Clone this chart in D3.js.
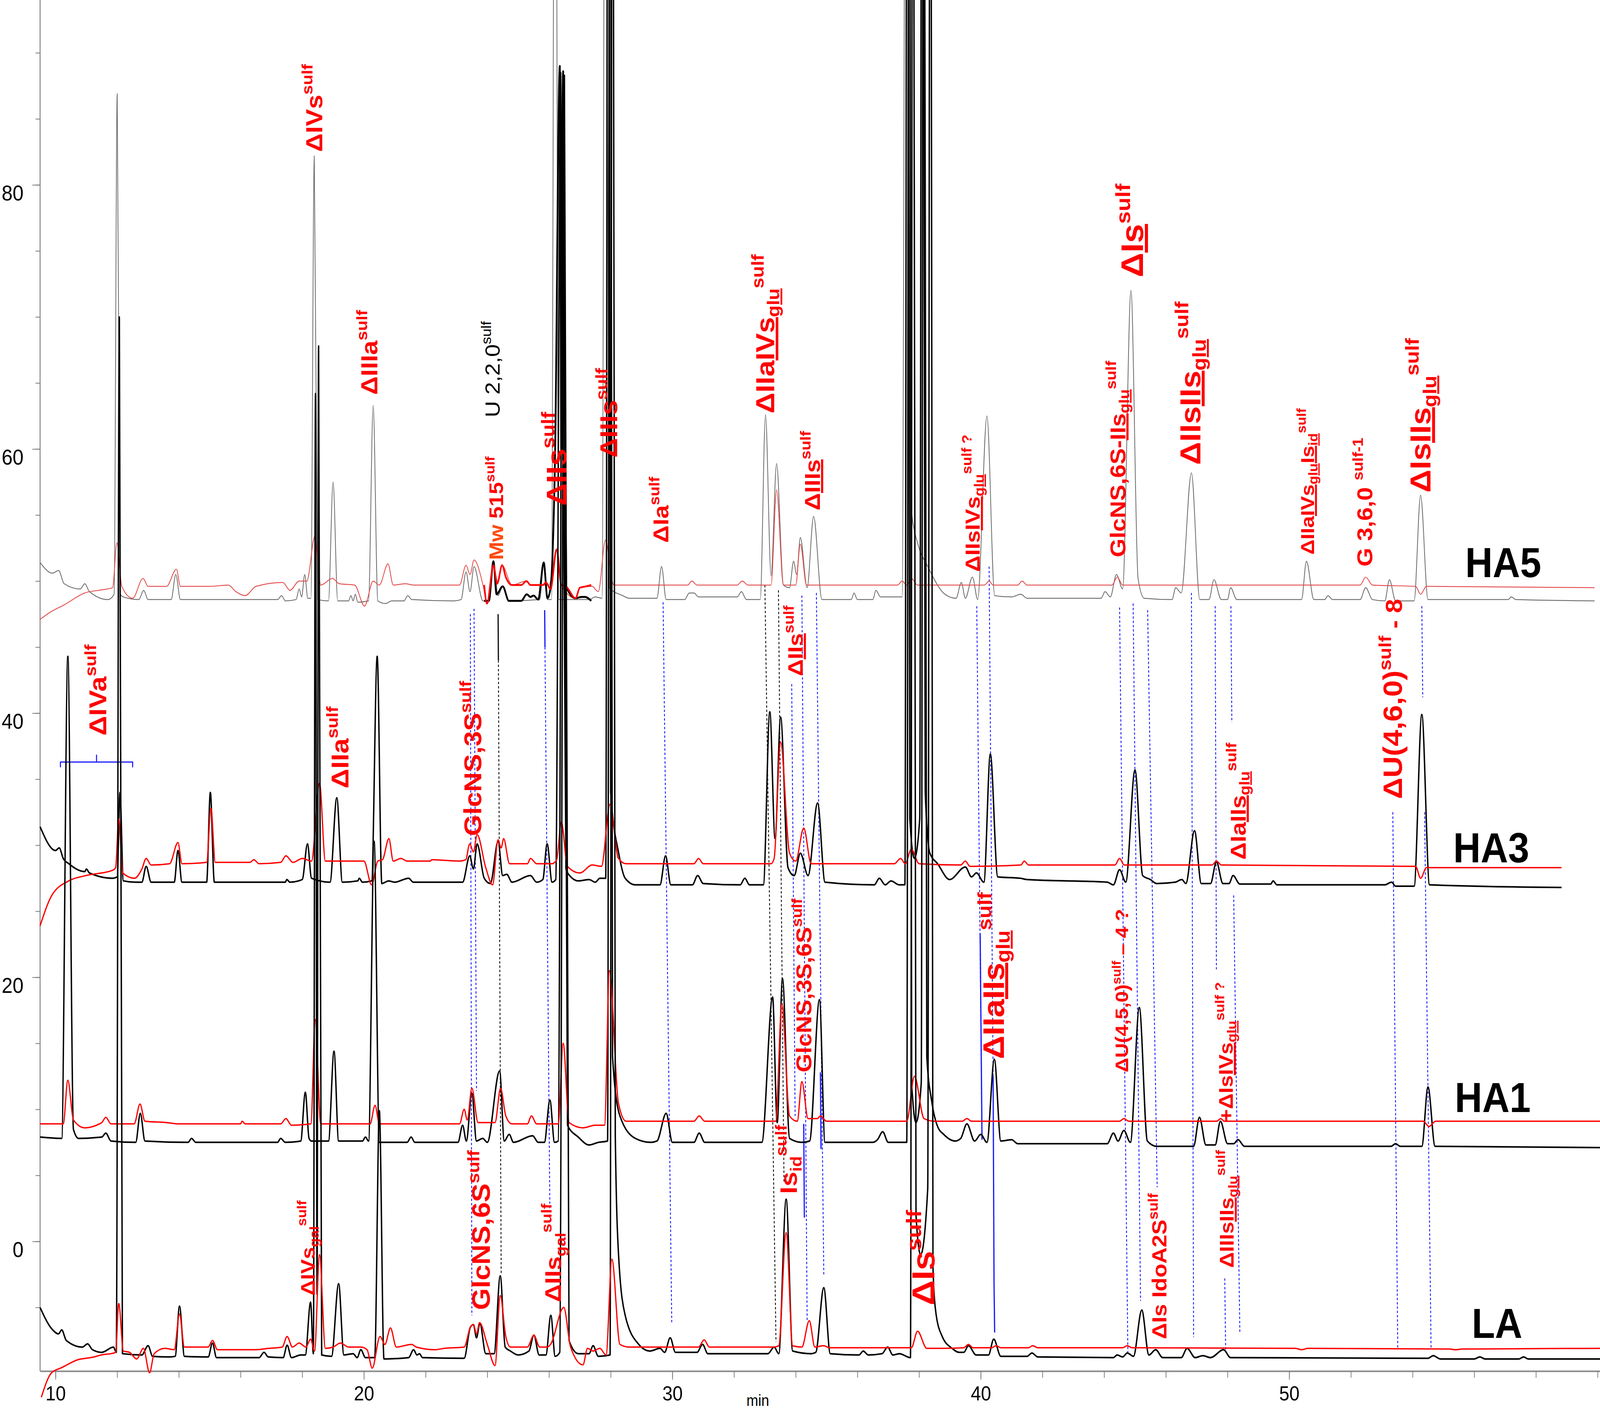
<!DOCTYPE html>
<html lang="en">
<head>
<meta charset="UTF-8">
<title>HPLC profiles LA / HA1 / HA3 / HA5</title>
<script src="https://d3js.org/d3.v7.min.js"></script>
<style>
  html, body { margin: 0; padding: 0; background: #fff; overflow: hidden; }
  svg { display: block; font-family: "Liberation Sans", Arial, sans-serif; }
</style>
</head>
<body>
<div id="chart"></div>
<script>
// ---------- data: [time (min), signal] ----------
const timeLabels = [10, 20, 30, 40, 50];
const signalLabels = [0, 20, 40, 60, 80];
const sampleNames = ["HA5", "HA3", "HA1", "LA"];

const ha5Grey = [[9.5,51.4],[9.9,50.6],[10.1,50.8],[10.28,49.8],[10.8,49.4],[10.95,49.8],[11.1,49.2],[11.7,48.6],[11.9,49.0],[12.0,86.9],[12.1,49.0],[12.2,48.8],[12.7,48.6],[12.86,49.3],[13.0,48.6],[13.75,48.6],[13.9,50.5],[14.05,48.6],[17.2,48.6],[17.33,48.9],[17.45,48.5],[17.8,48.6],[17.9,49.4],[17.98,48.8],[18.08,50.5],[18.18,48.7],[18.28,48.7],[18.39,82.2],[18.5,48.6],[18.85,48.5],[19.0,57.5],[19.15,48.5],[19.5,48.5],[19.58,48.9],[19.65,48.5],[19.72,49.0],[19.8,48.4],[20.15,48.5],[20.3,63.3],[20.45,48.5],[20.7,48.3],[20.9,48.5],[21.3,48.5],[21.42,48.9],[21.55,48.6],[22.9,48.5],[23.15,48.6],[23.31,50.7],[23.44,49.2],[23.57,51.1],[23.86,48.5],[24.05,48.5],[24.2,51.4],[24.35,48.9],[24.5,49.6],[24.7,48.5],[25.7,48.6],[25.83,51.4],[25.95,48.6],[26.08,48.6],[26.2,130],[26.32,48.6],[27.3,48.6],[27.5,48.8],[27.72,48.7],[27.83,130],[27.95,49.5],[28.39,48.9],[28.6,48.7],[29.5,48.7],[29.65,51.1],[29.8,48.6],[30.4,48.6],[30.55,49.1],[30.7,49.1],[30.85,48.8],[32.1,48.8],[32.24,49.2],[32.4,48.6],[32.85,48.6],[33.02,62.6],[33.2,50.4],[33.38,58.9],[33.6,49.7],[33.8,49.5],[33.93,51.5],[34.03,50.5],[34.15,53.3],[34.37,49.5],[34.58,54.9],[34.85,48.6],[35.8,48.6],[35.89,49.1],[36.0,48.6],[36.5,48.6],[36.6,49.3],[36.75,48.8],[37.45,48.8],[37.58,130],[37.72,56],[38.0,52.5],[38.24,51.3],[38.84,49.0],[39.2,48.7],[39.37,49.9],[39.5,48.7],[39.73,50.3],[39.9,48.6],[40.2,62.5],[40.45,48.9],[41.0,48.8],[41.3,49.0],[41.5,48.7],[43.9,48.7],[44.03,49.2],[44.2,48.8],[44.4,50.5],[44.6,49.4],[44.87,72.0],[45.1,50.2],[45.3,48.7],[46.2,48.6],[46.32,49.5],[46.5,49.1],[46.83,58.2],[47.1,48.6],[47.4,48.6],[47.56,50.1],[47.8,48.6],[48.0,48.6],[48.1,49.5],[48.3,48.6],[50.4,48.6],[50.56,51.5],[50.8,48.6],[51.15,48.6],[51.26,48.9],[51.4,48.6],[52.3,48.6],[52.48,49.5],[52.7,48.6],[53.1,48.5],[53.25,50.1],[53.45,48.5],[54.05,48.5],[54.26,56.5],[54.5,48.6],[57.1,48.6],[57.2,48.8],[57.35,48.6],[59.9,48.5]];

const ha5Red = [[9.5,47.1],[9.8,47.6],[10.28,48.2],[10.95,49.1],[11.51,49.34],[11.85,49.5],[11.99,52.9],[12.15,49.6],[12.5,48.7],[12.84,50.2],[13.0,49.6],[13.6,49.6],[13.92,50.9],[14.05,49.6],[15.0,49.6],[15.6,49.7],[15.85,49.2],[16.15,48.9],[16.5,49.6],[17.37,49.9],[17.6,49.3],[17.9,50.0],[18.15,50.0],[18.41,53.4],[18.6,49.7],[18.98,50.2],[19.2,49.8],[19.7,49.7],[20.02,48.1],[20.3,50.0],[20.5,49.7],[20.78,51.3],[20.95,49.7],[21.35,49.8],[21.6,49.7],[22.9,49.7],[23.1,49.7],[23.31,51.2],[23.44,50.5],[23.57,51.6],[23.86,49.7],[23.99,48.3],[24.2,51.2],[24.33,50.0],[24.48,51.2],[24.8,49.7],[25.27,50.0],[25.4,49.7],[26.0,49.7],[26.25,52.4],[26.4,49.7],[26.86,48.7],[27.0,49.5],[27.4,49.6],[27.6,49.2],[27.83,53.1],[28.1,49.7],[30.5,49.7],[30.63,50.0],[30.8,49.7],[32.1,49.7],[32.27,50.0],[32.45,49.7],[33.2,49.7],[33.38,56.9],[33.6,49.7],[34.0,49.7],[34.15,52.8],[34.35,49.7],[37.3,49.7],[37.45,50.0],[37.6,49.7],[37.75,50.2],[37.95,49.7],[40.12,49.7],[40.27,50.0],[40.4,49.7],[41.2,49.7],[41.34,50.0],[41.5,49.7],[44.25,49.7],[44.43,50.3],[44.6,49.7],[52.3,49.7],[52.48,50.3],[52.7,49.7],[54.1,49.6],[54.26,49.0],[54.45,49.6],[59.9,49.5]];

// HA5 segment re-plotted with a heavier pen (24–27.4 min)
const ha5PatchBlack = [[23.9,48.5],[24.05,48.5],[24.2,51.5],[24.3,49.0],[24.5,49.6],[24.7,48.5],[25.1,48.5],[25.28,49.0],[25.4,48.8],[25.5,48.9],[25.65,48.6],[25.83,51.4],[25.95,48.7],[26.05,49.5],[26.2,60],[26.35,89.0],[26.4,60],[26.46,88.6],[26.56,49.6],[26.86,48.7],[27.05,48.8],[27.17,48.8],[27.37,48.5]];
const ha5PatchRed = [[23.9,49.7],[23.99,48.3],[24.2,51.2],[24.32,49.8],[24.48,51.2],[24.6,50.3],[24.8,49.7],[25.1,49.7],[25.27,50.0],[25.4,49.7],[25.8,49.7],[25.9,49.9],[26.05,49.4],[26.25,52.4],[26.4,49.7],[26.55,49.6],[26.86,48.7],[27.0,49.5],[27.2,49.6],[27.37,49.7]];

const ha3Black = [[9.5,31.4],[10.0,29.6],[10.12,29.8],[10.25,29.0],[10.43,28.6],[10.95,28.0],[11.0,28.2],[11.1,27.9],[11.85,27.5],[12.0,27.6],[12.09,34.0],[12.2,27.3],[12.6,27.2],[12.8,27.2],[12.94,28.4],[13.1,27.2],[13.85,27.2],[13.97,29.6],[14.1,27.2],[14.9,27.2],[15.02,34.0],[15.15,27.2],[17.45,27.2],[17.5,27.4],[17.6,27.2],[18.0,27.4],[18.17,30.1],[18.3,27.5],[18.9,27.2],[19.12,33.6],[19.3,27.2],[19.8,27.3],[19.85,27.5],[19.95,27.2],[20.25,27.3],[20.43,44.3],[20.58,27.1],[20.8,27.3],[21.0,27.2],[21.45,27.5],[21.6,27.2],[23.2,27.2],[23.43,29.2],[23.55,28.2],[23.67,30.1],[23.9,27.5],[24.1,27.1],[24.35,30.3],[24.5,27.7],[24.63,27.8],[24.8,27.2],[25.4,27.7],[25.6,27.2],[25.8,27.4],[25.94,30.1],[26.1,27.2],[26.22,27.4],[26.38,88.5],[26.55,28.2],[26.67,27.7],[26.95,27.3],[27.3,27.4],[27.5,27.2],[27.65,27.5],[27.84,27.5],[27.92,140],[28.0,34],[28.26,29.4],[28.47,27.5],[28.8,27.0],[29.6,27.0],[29.78,29.2],[29.95,27.0],[30.65,27.0],[30.82,27.7],[31.0,27.1],[32.2,27.0],[32.35,27.5],[32.5,27.0],[32.95,27.0],[33.16,40.1],[33.33,30.5],[33.51,39.7],[33.75,28.3],[33.95,27.7],[34.15,29.4],[34.4,27.7],[34.71,33.2],[34.95,27.2],[36.55,27.0],[36.71,27.5],[36.9,27.0],[37.09,27.3],[37.35,27.0],[37.54,27.0],[37.62,140],[37.7,32],[37.85,29],[38.02,32],[38.1,140],[38.2,34],[38.35,29.4],[38.6,28.6],[38.99,27.4],[39.5,28.35],[39.7,27.6],[39.86,27.9],[40.1,27.2],[40.31,36.9],[40.55,27.6],[41.28,27.5],[41.5,27.4],[44.1,27.2],[44.3,27.0],[44.5,28.15],[44.7,27.2],[45.0,35.7],[45.25,27.7],[45.5,27.4],[45.7,27.1],[46.3,27.2],[46.52,27.4],[46.65,27.1],[46.93,31.1],[47.15,27.1],[47.45,27.1],[47.64,28.75],[47.85,27.1],[48.05,27.1],[48.18,27.7],[48.4,27.06],[49.4,27.06],[49.48,27.3],[49.6,27.0],[53.1,27.0],[53.32,27.2],[53.45,26.9],[54.05,26.9],[54.3,39.9],[54.55,27.0],[58.83,26.8]];

const ha3Red = [[9.5,23.9],[9.88,26.2],[10.43,27.3],[10.98,27.7],[11.85,28.1],[11.95,28.3],[12.05,32.0],[12.18,27.9],[12.56,27.5],[12.8,28.2],[12.94,29.0],[13.1,28.5],[13.7,28.6],[13.97,30.2],[14.1,28.6],[14.9,28.7],[15.04,32.8],[15.18,28.7],[16.3,28.7],[16.43,28.9],[16.6,28.6],[17.3,28.7],[17.47,29.2],[17.7,28.7],[18.0,29.0],[18.3,28.8],[18.56,34.7],[18.75,28.8],[20.0,28.8],[20.25,27.0],[20.45,28.8],[20.6,28.9],[20.81,30.5],[20.95,28.8],[21.2,29.0],[21.4,28.8],[22.15,28.8],[22.2,28.9],[23.1,28.8],[23.3,28.9],[23.43,30.1],[23.55,29.5],[23.67,30.8],[23.95,28.3],[24.17,27.0],[24.35,30.4],[24.45,29.8],[24.53,30.5],[24.72,28.6],[25.3,28.6],[25.4,29.0],[25.6,28.6],[26.1,28.6],[26.25,28.9],[26.4,31.76],[26.6,28.4],[27.0,27.9],[27.4,28.5],[27.7,28.4],[27.98,33.1],[28.25,29.0],[28.5,28.6],[30.7,28.6],[30.85,29.0],[31.0,28.6],[33.2,28.6],[33.3,29.0],[33.51,37.8],[33.8,29.4],[34.0,28.8],[34.26,31.3],[34.5,28.6],[37.2,28.6],[37.4,29.0],[37.55,28.6],[37.75,29.7],[38.0,28.6],[39.35,28.5],[39.5,28.8],[39.65,28.4],[41.3,28.5],[41.41,28.8],[41.55,28.5],[44.35,28.5],[44.5,29.0],[44.65,28.5],[47.5,28.5],[47.64,28.8],[47.8,28.5],[54.1,28.4],[54.26,27.5],[54.45,28.3],[58.83,28.3]];

const ha1Black = [[9.5,7.9],[10.2,7.8],[10.4,44.3],[10.58,8.5],[10.75,7.8],[11.5,7.9],[11.63,8.2],[11.8,7.6],[12.6,7.5],[12.75,9.7],[12.9,7.6],[14.3,7.5],[14.41,7.8],[14.55,7.5],[17.2,7.5],[17.3,7.8],[17.45,7.5],[17.95,7.6],[18.1,11.3],[18.22,7.8],[18.3,7.6],[18.85,7.6],[19.03,14.4],[19.18,7.6],[19.95,7.6],[20.05,7.9],[20.15,7.6],[20.33,30.3],[20.5,7.5],[21.4,7.5],[21.53,7.9],[21.65,7.5],[23.05,7.5],[23.2,8.8],[23.32,7.6],[23.5,11.2],[23.65,7.6],[23.85,7.8],[24.0,7.5],[24.4,12.9],[24.55,7.6],[24.71,8.1],[24.85,7.5],[25.47,8.0],[25.65,7.5],[25.85,7.5],[26.03,10.7],[26.18,7.5],[26.3,7.6],[26.45,88.4],[26.6,8.8],[26.95,7.9],[27.3,7.3],[27.6,7.5],[27.9,7.6],[27.98,140],[28.06,14],[28.3,9.5],[28.8,7.8],[29.3,7.5],[29.5,7.6],[29.8,9.7],[30.0,7.5],[30.7,7.5],[30.87,8.2],[31.05,7.5],[32.9,7.5],[33.25,18.5],[33.4,9.0],[33.57,19.9],[33.8,7.8],[34.2,7.5],[34.45,7.6],[34.77,18.3],[34.95,7.5],[36.5,7.5],[36.65,7.7],[36.82,8.3],[37.0,7.5],[37.6,7.5],[37.68,140],[37.76,12],[37.9,9],[38.07,12],[38.15,140],[38.25,14],[38.41,10.6],[38.6,8.7],[38.8,8.1],[39.17,7.6],[39.35,7.8],[39.55,8.9],[39.8,7.6],[40.0,8.1],[40.2,7.5],[40.44,13.8],[40.65,7.6],[41.0,7.7],[41.2,7.4],[44.1,7.4],[44.3,8.2],[44.45,7.6],[44.64,8.4],[44.85,7.5],[45.14,17.7],[45.4,7.6],[45.7,7.2],[46.9,7.2],[47.09,9.4],[47.3,7.3],[47.6,7.3],[47.77,9.1],[48.0,7.4],[48.2,7.4],[48.34,7.7],[48.55,7.2],[53.3,7.2],[53.45,7.4],[53.6,7.2],[54.3,7.2],[54.5,11.7],[54.73,7.2],[60.1,7.1]];

const ha1Red = [[9.5,8.9],[10.25,8.9],[10.4,12.2],[10.58,9.2],[10.95,8.6],[11.5,9.0],[11.63,9.4],[11.8,8.9],[12.55,8.9],[12.74,10.4],[12.9,9.1],[13.6,9.0],[14.0,8.9],[16.0,8.9],[16.05,9.1],[16.15,8.9],[17.3,8.9],[17.47,9.3],[17.65,8.8],[18.28,8.9],[18.42,16.8],[18.6,8.9],[20.2,8.9],[20.36,10.3],[20.5,8.9],[23.1,8.9],[23.25,10.0],[23.35,9.2],[23.5,11.6],[23.7,9.0],[24.25,9.0],[24.43,11.6],[24.6,9.5],[24.8,8.9],[25.3,8.9],[25.43,9.5],[25.6,8.9],[26.3,8.9],[26.46,15.0],[26.65,9.0],[27.1,8.6],[27.5,8.8],[27.8,8.8],[27.96,20.5],[28.25,10.5],[28.5,9.1],[30.7,9.1],[30.87,9.5],[31.05,9.1],[33.35,9.1],[33.55,18.0],[33.8,9.5],[34.05,9.1],[34.2,12.1],[34.4,9.3],[34.7,9.3],[34.8,9.5],[35.0,9.1],[37.6,9.1],[37.85,12.5],[38.16,9.3],[38.5,9.1],[39.4,9.1],[39.55,9.3],[39.7,9.1],[44.5,9.1],[44.64,9.3],[44.8,9.1],[47.65,9.1],[47.78,9.3],[47.9,9.1],[54.35,9.1],[54.53,8.7],[54.75,9.1],[60.1,9.1]];

const laBlack = [[9.5,-5.0],[9.87,-6.6],[10.1,-7.0],[10.2,-6.7],[10.35,-7.5],[10.87,-8.0],[11.04,-7.76],[11.2,-8.2],[11.5,-8.4],[11.88,-8.0],[11.97,-8.4],[12.07,70.0],[12.17,-8.5],[12.8,-8.6],[13.0,-7.9],[13.15,-8.7],[13.7,-8.75],[13.88,-8.7],[14.02,-4.9],[14.18,-8.7],[14.95,-8.75],[15.09,-7.7],[15.22,-8.8],[16.6,-8.8],[16.76,-8.4],[16.9,-8.75],[17.38,-8.8],[17.51,-7.86],[17.65,-8.8],[17.95,-8.6],[18.1,-8.6],[18.27,-4.6],[18.36,-8.5],[18.43,64.2],[18.48,-4],[18.53,67.8],[18.63,-8.6],[18.95,-8.7],[19.18,-3.2],[19.35,-8.6],[19.65,-8.5],[19.78,-8.8],[19.9,-8.2],[20.05,-8.8],[20.35,-8.8],[20.5,9.9],[20.65,-8.9],[21.45,-8.8],[21.61,-8.2],[21.72,-8.6],[21.8,-8.5],[21.9,-8.8],[23.25,-8.85],[23.45,-6.5],[23.55,-6.3],[23.65,-7.3],[23.76,-6.2],[23.95,-8.5],[24.22,-8.5],[24.42,-2.6],[24.58,-8.0],[24.75,-8.3],[25.0,-8.6],[25.35,-8.3],[25.51,-7.1],[25.68,-8.6],[25.9,-8.6],[26.06,-5.6],[26.2,-8.7],[26.35,-8.4],[26.5,88.3],[26.65,-7.5],[26.95,-8.5],[27.3,-8.5],[27.43,-7.9],[27.6,-8.7],[27.98,-8.6],[28.06,140],[28.15,8],[28.26,-1.2],[28.47,-5.6],[28.91,-7.8],[29.27,-8.3],[29.6,-8.1],[29.75,-8.4],[29.93,-7.3],[30.1,-8.4],[30.8,-8.4],[30.98,-7.8],[31.15,-8.5],[33.1,-8.5],[33.3,-8.0],[33.45,-8.5],[33.69,3.2],[33.9,-8.3],[34.5,-8.5],[34.65,-8.4],[34.91,-3.5],[35.12,-8.5],[36.05,-8.6],[36.19,-8.3],[36.35,-8.6],[36.8,-8.5],[36.98,-8.0],[37.15,-8.6],[37.36,-8.5],[37.72,-8.8],[37.8,140],[37.9,2],[38.05,-1],[38.28,4],[38.37,140],[38.45,-2],[38.55,-5.5],[38.75,-7.2],[39.07,-8.1],[39.3,-8.4],[39.45,-8.4],[39.6,-7.9],[39.85,-8.6],[40.25,-8.6],[40.42,-7.4],[40.65,-8.7],[41.5,-8.7],[41.66,-8.45],[41.85,-8.75],[44.3,-8.8],[44.42,-8.6],[44.6,-8.75],[44.75,-8.45],[44.95,-8.7],[45.22,-5.2],[45.45,-8.6],[45.67,-8.2],[45.9,-8.8],[46.5,-8.8],[46.69,-8.1],[46.95,-8.8],[47.2,-8.65],[47.45,-8.8],[47.87,-8.2],[48.1,-8.8],[54.5,-8.85],[54.67,-8.65],[54.9,-8.9],[56.0,-8.9],[56.18,-8.75],[56.35,-8.9],[57.45,-8.9],[57.6,-8.75],[57.75,-8.9],[60.08,-8.9]];

const laRed = [[9.54,-11.8],[9.87,-9.95],[10.2,-9.56],[10.71,-8.97],[11.21,-8.77],[11.54,-8.57],[11.8,-8.5],[11.95,-8.4],[12.05,-4.7],[12.2,-8.3],[12.4,-8.4],[12.63,-8.9],[12.85,-8.1],[13.05,-9.95],[13.2,-8.5],[13.55,-8.1],[13.85,-8.2],[14.02,-5.5],[14.18,-8.0],[14.95,-8.0],[15.09,-7.5],[15.25,-8.2],[15.9,-8.2],[16.5,-8.2],[16.9,-8.1],[17.35,-8.0],[17.51,-7.2],[17.68,-8.0],[17.9,-7.7],[18.12,-8.0],[18.27,-7.4],[18.4,-8.3],[18.56,-1.0],[18.75,-8.1],[19.0,-8.0],[19.24,-7.7],[19.5,-8.0],[19.9,-8.0],[20.1,-8.2],[20.27,-9.6],[20.52,-7.2],[20.68,-7.8],[20.86,-6.55],[21.05,-8.0],[21.55,-7.8],[21.7,-8.0],[22.3,-8.2],[22.6,-8.1],[23.25,-8.0],[23.45,-6.5],[23.55,-6.3],[23.65,-7.0],[23.75,-6.15],[24.0,-7.8],[24.25,-9.4],[24.42,-4.1],[24.6,-7.2],[24.75,-8.0],[25.3,-8.0],[25.51,-7.1],[25.7,-8.0],[25.95,-8.0],[26.05,-7.8],[26.48,-5.0],[26.7,-8.0],[27.1,-9.35],[27.25,-8.1],[27.43,-8.3],[27.65,-8.1],[27.85,-8.6],[28.04,-1.35],[28.3,-7.8],[28.6,-8.0],[30.85,-8.0],[31.03,-7.45],[31.2,-8.0],[33.3,-8.0],[33.45,-7.9],[33.69,0.67],[33.9,-7.9],[34.2,-8.0],[34.44,-6.0],[34.62,-8.0],[34.9,-7.9],[35.1,-8.05],[37.75,-8.05],[37.95,-6.8],[38.25,-8.1],[38.7,-8.1],[39.45,-8.05],[39.6,-7.8],[39.75,-8.05],[40.35,-8.05],[40.5,-7.9],[40.65,-8.05],[41.55,-8.05],[41.68,-7.9],[41.85,-8.05],[44.6,-8.05],[44.75,-7.9],[44.9,-8.05],[50.2,-8.1],[50.4,-8.2],[50.6,-8.1],[55.2,-8.15],[55.4,-8.2],[55.6,-8.15],[60.08,-8.1]];

// guide lines between matching peaks: [t1, v1, t2, v2, colour, dotted?]
const guideLines = [
  [23.57,47.9,23.65,11.4,"b",1],[23.45,47.5,23.5,-5.6,"b",1],
  [24.35,47.5,24.36,44.0,"k",0],[24.36,44.0,24.45,-2.4,"k",1],
  [25.86,47.8,25.87,45.0,"b",0],[25.87,45.0,26.03,2.0,"b",1],
  [29.7,48.4,29.98,-6.15,"b",1],
  [33.0,49.7,33.36,-7.6,"k",1],[33.44,49.3,33.62,4.5,"k",1],
  [33.87,42.2,33.98,9.5,"b",1],
  [34.2,48.9,34.37,-6.0,"b",1],[34.26,8.9,34.28,1.8,"b",0],
  [34.67,49.1,34.91,-2.5,"b",1],[34.8,12.8,34.82,7.0,"b",0],
  [39.87,48.1,40.04,7.7,"b",1],[39.98,23.3,40.04,7.7,"b",0],
  [40.27,51.1,40.4,12.5,"b",1],[40.4,12.5,40.43,-3.2,"b",0],[40.43,-3.2,40.45,-6.9,"b",0],
  [44.5,48.0,44.77,-8.6,"b",1],[44.94,48.3,45.18,-4.5,"b",1],[45.41,47.8,45.72,4.1,"b",1],
  [46.83,49.1,46.9,-7.25,"b",1],
  [47.6,48.1,47.64,20.6,"b",1],[47.91,-2.8,47.94,-8.3,"b",1],
  [48.11,48.1,48.14,39.3,"b",1],[48.2,26.2,48.4,-6.9,"b",1],
  [53.36,32.5,53.52,-8.1,"b",1],
  [54.3,48.1,54.33,41.2,"b",1],[54.39,32.5,54.6,-8.1,"b",1]
];

// peak annotations (rotated): time, signal at text start, font size, pieces
const annotations = [
  {t:18.38, v:82.5, fs:66, p:[["ΔIVs"],["sulf","sup"]]},
  {t:20.16, v:64.1, fs:66, p:[["ΔIIIa"],["sulf","sup"]]},
  {t:24.16, v:62.4, fs:58, w:"normal", c:"#000", p:[["U 2,2,0"],["sulf","sup"]]},
  {t:24.28, v:51.6, fs:56, p:[["Mw","mw"],[" 515"],["sulf","sup"]]},
  {t:26.24, v:55.7, fs:80, p:[["ΔIIs"],["sulf","sup"]]},
  {t:27.93, v:59.35, fs:70, p:[["ΔIIIs"],["sulf","sup"]]},
  {t:29.62, v:52.9, fs:62, p:[["ΔIa"],["sulf","sup"]]},
  {t:33.0, v:62.7, fs:74, p:[["ΔIIa"],["IVs","u"],["glu","subu"],["sulf","sup"]]},
  {t:34.53, v:55.35, fs:62, p:[["Δ"],["IIIs","u"],["sulf","sup"]]},
  {t:39.73, v:50.7, fs:58, p:[["ΔIIs"],["IVs","u"],["glu","subu"],["sulf ?","sup"]]},
  {t:44.43, v:51.8, fs:62, p:[["GlcNS,6S-"],["IIs","u"],["glu","subu"],["sulf","sup"]]},
  {t:44.9, v:73.0, fs:88, p:[["Δ"],["Is","u"],["sulf","sup"]]},
  {t:46.78, v:58.8, fs:82, p:[["ΔIIs"],["IIs","u"],["glu","subu"],["sulf","sup"]]},
  {t:50.58, v:52.0, fs:54, p:[["ΔIIa"],["IVs","u"],["glu","subu"],["Is","u"],["id","subu"],["sulf","sup"]]},
  {t:52.44, v:51.1, fs:62, p:[["G 3,6,0 "],["sulf","sup"],["-1","sup"]]},
  {t:54.25, v:56.7, fs:82, p:[["ΔIs"],["IIs","u"],["glu","subu"],["sulf","sup"]]},
  {t:11.36, v:38.3, fs:70, p:[["ΔIVa"],["sulf","sup"]]},
  {t:19.21, v:34.3, fs:70, p:[["ΔIIa"],["sulf","sup"]]},
  {t:23.52, v:30.7, fs:70, p:[["GlcNS,3S"],["sulf","sup"]]},
  {t:33.98, v:42.8, fs:60, p:[["Δ"],["IIs","u"],["sulf","sup"]]},
  {t:53.35, v:33.5, fs:76, p:[["ΔU(4,6,0)"],["sulf","sup"],[" - 8","small"]]},
  {t:48.33, v:28.9, fs:62, p:[["ΔIa"],["IIs","u"],["glu","subu"],["sulf","sup"]]},
  {t:40.4, v:13.8, fs:84, p:[["ΔIIa"],["IIs","u"],["glu","subu"],["sulf","sup"]]},
  {t:34.25, v:12.8, fs:62, p:[["GlcNS,3S,6S"],["sulf","sup"]]},
  {t:44.57, v:12.8, fs:52, p:[["ΔU(4,5,0)"],["sulf","sup"],[" – 4 ?"]]},
  {t:47.94, v:9.05, fs:56, p:[["+ΔIs"],["IVs","u"],["glu","subu"],["sulf ?","sup"]]},
  {t:18.18, v:-4.1, fs:56, p:[["ΔIVs"],["gal","sub"],["sulf","sup"]]},
  {t:23.79, v:-5.2, fs:72, p:[["GlcNS,6S"],["sulf","sup"]]},
  {t:26.13, v:-4.6, fs:64, p:[["ΔIIs"],["gal","sub"],["sulf","sup"]]},
  {t:33.76, v:3.6, fs:68, p:[["Is"],["id","sub"],["sulf","sup"]]},
  {t:38.13, v:-4.85, fs:90, p:[["ΔIs"],["sulf","sup"]]},
  {t:45.78, v:-7.4, fs:58, p:[["ΔIs IdoA2S"],["sulf","sup"]]},
  {t:47.97, v:-2.0, fs:56, p:[["ΔIIIs"],["IIs","u"],["glu","subu"],["sulf","sup"]]}
];
const sampleLabelPos = [[56.94,51.4],[56.55,29.8],[56.6,10.9],[56.74,-6.2]];

// ---------- drawing ----------
const W = 4550, H = 3606;
const RED = "#ff0000";

// the drawing is made in a 4550x3606 frame and stretched onto the actual viewport
const svg = d3.select("#chart").append("svg")
  .attr("width", window.innerWidth || W)
  .attr("height", window.innerHeight || H)
  .attr("viewBox", `0 0 ${W} ${H}`)
  .attr("preserveAspectRatio", "none");

const x = d3.scaleLinear().domain([9.5, 60.1]).range([114, 4552]);
const y = d3.scaleLinear().domain([-9.82, 94.0]).range([3509, 0]);

// axes
const yMinor = svg.append("g").attr("transform", "translate(114,0)")
  .call(d3.axisLeft(y).tickValues(d3.range(-5, 95, 5)).tickSize(13).tickSizeOuter(0).tickFormat(""));
yMinor.select(".domain").attr("stroke", "#7a7a7a").attr("stroke-width", 2.5).attr("d", "M0,0V3509");
yMinor.selectAll(".tick line").attr("stroke", "#7a7a7a").attr("stroke-width", 2);

const yMajor = svg.append("g").attr("transform", "translate(114,0)")
  .call(d3.axisLeft(y).tickValues(signalLabels).tickSize(22).tickPadding(25).tickSizeOuter(0));
yMajor.select(".domain").remove();
yMajor.selectAll(".tick line").attr("stroke", "#7a7a7a").attr("stroke-width", 2);
yMajor.selectAll(".tick text")
  .attr("fill", "#000").attr("dy", "0.7em")
  .style("font-size", "56px").style("font-family", "'Liberation Sans', Arial, sans-serif");

const xMinor = svg.append("g").attr("transform", "translate(0,3509)")
  .call(d3.axisBottom(x).tickValues(d3.range(10, 61, 2)).tickSize(17).tickSizeOuter(0).tickFormat(""));
xMinor.select(".domain").attr("stroke", "#8a8a8a").attr("stroke-width", 4);
xMinor.selectAll(".tick line").attr("stroke", "#7a7a7a").attr("stroke-width", 2);

const xMajor = svg.append("g").attr("transform", "translate(0,3509)")
  .call(d3.axisBottom(x).tickValues(timeLabels).tickSize(22).tickPadding(16).tickSizeOuter(0));
xMajor.select(".domain").remove();
xMajor.selectAll(".tick line").attr("stroke", "#7a7a7a").attr("stroke-width", 2);
xMajor.selectAll(".tick text")
  .attr("fill", "#000")
  .style("font-size", "52px").style("font-family", "'Liberation Sans', Arial, sans-serif");

svg.append("text").attr("x", x(32.77)).attr("y", 3598)
  .attr("text-anchor", "middle").style("font-size", "40px").text("min");

// guides
const guideLayer = svg.append("g");
guideLines.forEach(([t1, v1, t2, v2, c, dotted]) => {
  guideLayer.append("line")
    .attr("x1", x(t1)).attr("y1", y(v1)).attr("x2", x(t2)).attr("y2", y(v2))
    .attr("stroke", c === "b" ? "#1a1aff" : "#111")
    .attr("stroke-width", dotted ? 2.5 : 3.5)
    .attr("stroke-dasharray", dotted ? "6,5" : null);
});

// bracket under ΔIVa
const br = d3.path();
br.moveTo(x(10.16), y(35.9)); br.lineTo(x(10.16), y(36.3));
br.lineTo(x(12.5), y(36.3)); br.lineTo(x(12.5), y(35.9));
br.moveTo(x(11.33), y(36.3)); br.lineTo(x(11.33), y(36.85));
svg.append("path").attr("d", br.toString()).attr("fill", "none")
  .attr("stroke", "#1a1aff").attr("stroke-width", 3);

// traces
const line = d3.line().x(d => x(d[0])).y(d => y(d[1])).curve(d3.curveMonotoneX);
const traces = [
  { data: ha5Grey, color: "#6a6a6a", w: 2.2 },
  { data: ha5Red, color: "#e34848", w: 2.2 },
  { data: ha5PatchBlack, color: "#000", w: 5 },
  { data: ha5PatchRed, color: RED, w: 4.5 },
  { data: ha3Black, color: "#000", w: 4 },
  { data: ha3Red, color: RED, w: 3.5 },
  { data: ha1Black, color: "#000", w: 4 },
  { data: ha1Red, color: RED, w: 3.5 },
  { data: laBlack, color: "#000", w: 4 },
  { data: laRed, color: RED, w: 3.5 }
];
const traceLayer = svg.append("g");
traces.forEach(tr => {
  traceLayer.append("path").datum(tr.data)
    .attr("d", line)
    .attr("fill", "none")
    .attr("stroke", tr.color)
    .attr("stroke-width", tr.w)
    .attr("stroke-linejoin", "round");
});

// rotated peak labels
const labelLayer = svg.append("g");
annotations.forEach(a => {
  const small = Math.round(a.fs * 0.66);
  const txt = labelLayer.append("text")
    .attr("transform", `translate(${x(a.t)},${y(a.v)}) rotate(-90)`)
    .attr("dy", "0.36em")
    .style("font-size", a.fs + "px")
    .style("font-weight", a.w || "bold")
    .attr("fill", a.c || RED);
  a.p.forEach(([s, mode]) => {
    const ts = txt.append("tspan").text(s);
    if (mode === "sup") {
      ts.style("font-size", small + "px").style("baseline-shift", Math.round(a.fs * 0.42) + "px");
    } else if (mode === "sub" || mode === "subu") {
      ts.style("font-size", small + "px").style("baseline-shift", -Math.round(a.fs * 0.2) + "px");
      if (mode === "subu") ts.style("text-decoration", "underline");
    } else if (mode === "u") {
      ts.style("text-decoration", "underline");
    } else if (mode === "mw") {
      ts.attr("fill", "#ff4a10");
    } else if (mode === "small") {
      ts.style("font-size", Math.round(a.fs * 0.85) + "px");
    }
  });
});

// sample names
sampleNames.forEach((name, i) => {
  svg.append("text")
    .attr("x", x(sampleLabelPos[i][0])).attr("y", y(sampleLabelPos[i][1]))
    .attr("text-anchor", "middle").attr("dominant-baseline", "central")
    .style("font-size", "108px").style("font-weight", "bold")
    .text(name);
});
</script>
</body>
</html>
